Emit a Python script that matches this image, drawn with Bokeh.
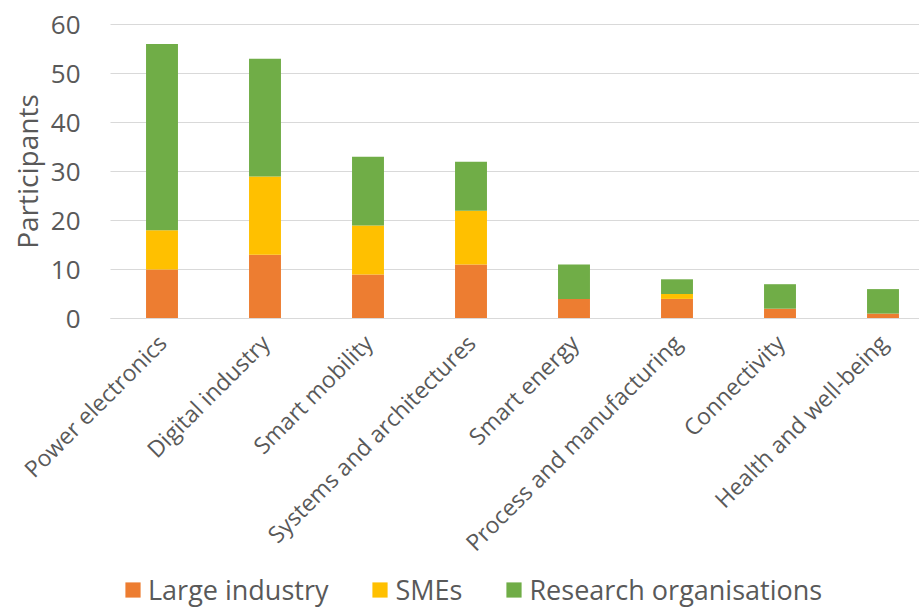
from math import pi
from bokeh.plotting import figure
from bokeh.models import ColumnDataSource, Range1d, FixedTicker, Legend, LegendItem
from bokeh.core.properties import value
from bokeh.embed import file_html
from bokeh.resources import INLINE

categories = ["Power electronics", "Digital industry", "Smart mobility",
              "Systems and architectures", "Smart energy",
              "Process and manufacturing", "Connectivity", "Health and well-being"]
large_industry = [10, 13, 9, 11, 4, 4, 2, 1]
smes = [8, 16, 10, 11, 0, 1, 0, 0]
research = [38, 24, 14, 10, 7, 3, 5, 5]
series_names = ["Large industry", "SMEs", "Research organisations"]
colors = ["#ED7D31", "#FFC000", "#70AD47"]
y_ticks = [0, 10, 20, 30, 40, 50, 60]
y_title = "Participants"

xs = list(range(len(categories)))
src = ColumnDataSource(dict(x=xs, large=large_industry, smes=smes, research=research))

FONT = "Open Sans"
TXT = "#595959"

# layout (pixels) -> data ranges; the frame covers the whole canvas so that the
# rotated category labels, the y labels and the legend are not clipped
W, H = 919, 608
PX_X0, PX_PER_CAT = 110, 103      # left edge of plot area, pixels per category
PX_Y0, PX_PER_UNIT = 318, 4.9     # baseline pixel row, pixels per participant
x_start = -0.5 - PX_X0 / PX_PER_CAT
x_end = -0.5 + (W - PX_X0) / PX_PER_CAT
y_end = PX_Y0 / PX_PER_UNIT
y_start = -(H - PX_Y0) / PX_PER_UNIT

p = figure(frame_width=W, frame_height=H, output_backend="svg", toolbar_location=None,
           x_range=Range1d(x_start, x_end), y_range=Range1d(y_start, y_end),
           min_border_top=0, min_border_right=0, min_border_left=0, min_border_bottom=0)
p.outline_line_color = None
p.xgrid.visible = False
p.ygrid.visible = False

# horizontal gridlines at the y ticks, spanning the plot area
p.segment(x0=[-0.5] * len(y_ticks), x1=[x_end] * len(y_ticks), y0=y_ticks, y1=y_ticks,
          line_color="#D9D9D9", line_width=1)

rs = p.vbar_stack(["large", "smes", "research"], x="x", width=0.31, source=src,
                  color=colors, line_color=None)

p.yaxis.fixed_location = -0.5
p.yaxis.ticker = FixedTicker(ticks=y_ticks)
p.yaxis.bounds = (0, 60)
p.yaxis.axis_line_color = None
p.yaxis.major_tick_line_color = None
p.yaxis.minor_tick_line_color = None
p.yaxis.major_label_standoff = 24
p.yaxis.major_label_text_font = FONT
p.yaxis.major_label_text_font_size = "26px"
p.yaxis.major_label_text_color = TXT

# y axis title, centred on the 0-60 span
p.text(x=[-0.5 - 84 / PX_PER_CAT], y=[30], text=[y_title], angle=pi / 2,
       text_align="center", text_baseline="middle",
       text_font=value(FONT), text_font_size="28px", text_color=TXT)

p.xaxis.fixed_location = 0
p.xaxis.bounds = (-0.5, x_end)
p.xaxis.ticker = FixedTicker(ticks=xs)
p.xaxis.major_label_overrides = {i: c for i, c in enumerate(categories)}
p.xaxis.major_label_orientation = pi / 4
p.xaxis.axis_line_color = "#D9D9D9"
p.xaxis.major_tick_line_color = None
p.xaxis.minor_tick_line_color = None
p.xaxis.major_label_standoff = 14
p.xaxis.major_label_text_font = FONT
p.xaxis.major_label_text_font_size = "23px"
p.xaxis.major_label_text_color = TXT

legend = Legend(items=[LegendItem(label=n, renderers=[r]) for n, r in zip(series_names, rs)],
                orientation="horizontal", location=(123, 0),
                glyph_width=19, glyph_height=19, label_standoff=6, spacing=42,
                padding=0, margin=0, border_line_color=None, background_fill_alpha=0,
                label_text_font=FONT, label_text_font_size="27px", label_text_color=TXT)
p.add_layout(legend, "center")

open("out.html", "w").write(file_html(p, INLINE))
